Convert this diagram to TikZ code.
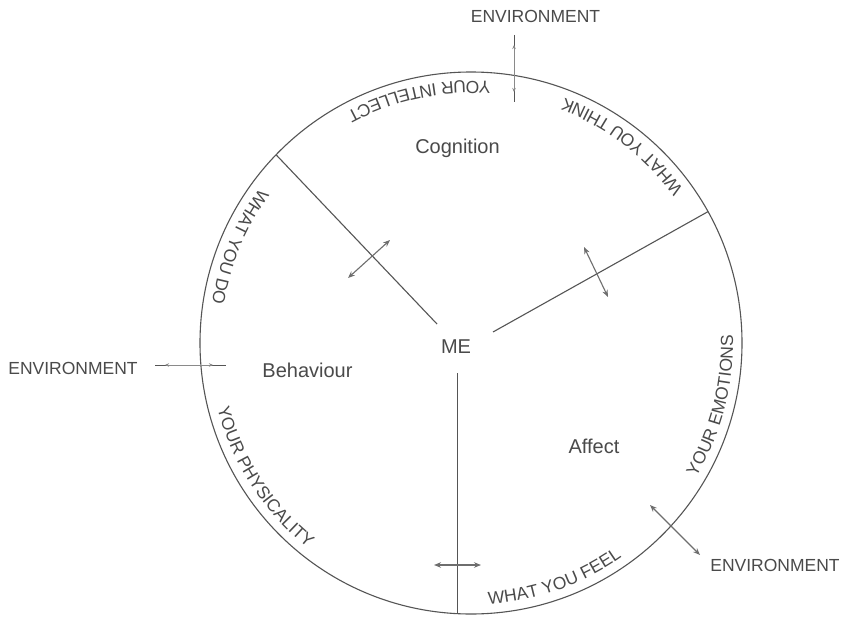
\documentclass[tikz,border=0pt]{standalone}
\usepackage{fontspec}
\setmainfont{Liberation Sans}
\usetikzlibrary{arrows.meta,decorations.text,calc}
\definecolor{ink}{HTML}{555555}
\definecolor{txt}{HTML}{4A4A4A}
\definecolor{arr}{HTML}{6E6E6E}
\definecolor{envc}{HTML}{8A8A8A}
\newcommand{\rimfont}{\fontsize{17.5}{20}\selectfont}
\begin{document}
\begin{tikzpicture}[x=1pt,y=1pt,
  rim/.style={draw=ink, line width=1.1pt},
  spoke/.style={draw=ink, line width=1.1pt},
  thinspoke/.style={draw=ink, line width=0.8pt},
  swap/.style={draw=arr, line width=1.1pt, {Stealth[length=7pt,width=5.5pt]}-{Stealth[length=7pt,width=5.5pt]}},
  envline/.style={draw=ink, line width=0.9pt},
  envtip/.style={draw=envc, line width=0.6pt, {Stealth[length=4pt,width=3.5pt]}-{Stealth[length=4pt,width=3.5pt]}},
  region/.style={text=txt, font=\fontsize{20}{24}\selectfont, inner sep=0pt, anchor=base},
  envlab/.style={text=txt, font=\rimfont, inner sep=0pt},
  rimtext/.style={decorate, decoration={text along path, text align=center, text={|\rimfont\color{txt}|#1}}}
]
\useasboundingbox (0,0) rectangle (845,-618);
\fill[white] (0,0) rectangle (845,-618);
\coordinate (C) at (471,-343);
\def\R{271}
\def\T{262}
\draw[rim] (C) circle[radius=\R];

% spokes
\coordinate (h1) at (437,-324);
\coordinate (e1) at ($(C)+(136:\R)$);
\coordinate (h2) at (493,-332);
\coordinate (e2) at ($(C)+(29:\R)$);
\coordinate (h3) at (457.5,-373);
\coordinate (e3) at (457.5,-613.6);
\draw[spoke] (h1) -- (e1);
\draw[spoke] (h2) -- (e2);
\draw[thinspoke] (h3) -- (e3);

% exchange arrows across spokes
\coordinate (a1s) at (348,-278); \coordinate (a1e) at (390,-240);
\coordinate (a2s) at (584,-247); \coordinate (a2e) at (608,-297);
\coordinate (a3s) at (434,-565); \coordinate (a3e) at (481,-565);
\draw[swap] (a1s) -- (a1e);
\draw[swap] (a2s) -- (a2e);
\draw[swap] (a3s) -- (a3e);

% region labels
\node[region] (cog) at (457.5,-153) {Cognition};
\node[region] (me) at (456,-353) {ME};
\node[region] (beh) at (307.5,-377) {Behaviour};
\node[region] (aff) at (594,-453) {Affect};

% environment labels and arrows
\node[envlab] (envT) at (535.5,-16.5) {ENVIRONMENT};
\node[envlab] (envL) at (73,-368) {ENVIRONMENT};
\node[envlab] (envR) at (775,-565) {ENVIRONMENT};

\coordinate (tA) at (514,-35); \coordinate (tB) at (514,-102);
\coordinate (tA2) at (514,-45); \coordinate (tB2) at (514,-92);
\draw[envline] (tA) -- (tB);
\draw[envtip] (tA2) -- (tB2);

\coordinate (lA) at (155,-365); \coordinate (lB) at (226,-365);
\coordinate (lA2) at (165,-365); \coordinate (lB2) at (213,-365);
\draw[envline] (lA) -- (lB);
\draw[envtip] (lA2) -- (lB2);

\coordinate (rA) at (650,-505); \coordinate (rB) at (700,-555);
\draw[swap] (rA) -- (rB);

% texts along the rim (counter-clockwise)
\path[rimtext={WHAT YOU THINK}] ($(C)+(22.5:\T)$) arc[start angle=22.5, end angle=82.5, radius=\T];
\path[rimtext={YOUR INTELLECT}] ($(C)+(72:\T)$) arc[start angle=72, end angle=132, radius=\T];
\path[rimtext={WHAT YOU DO}] ($(C)+(127.5:\T)$) arc[start angle=127.5, end angle=187.5, radius=\T];
\path[rimtext={YOUR PHYSICALITY}] ($(C)+(183:\T)$) arc[start angle=183, end angle=243, radius=\T];
\path[rimtext={WHAT YOU FEEL}] ($(C)+(259.5:\T)$) arc[start angle=259.5, end angle=319.5, radius=\T];
\path[rimtext={YOUR EMOTIONS}] ($(C)+(315.5:\T)$) arc[start angle=315.5, end angle=375.5, radius=\T];
\end{tikzpicture}
\end{document}
